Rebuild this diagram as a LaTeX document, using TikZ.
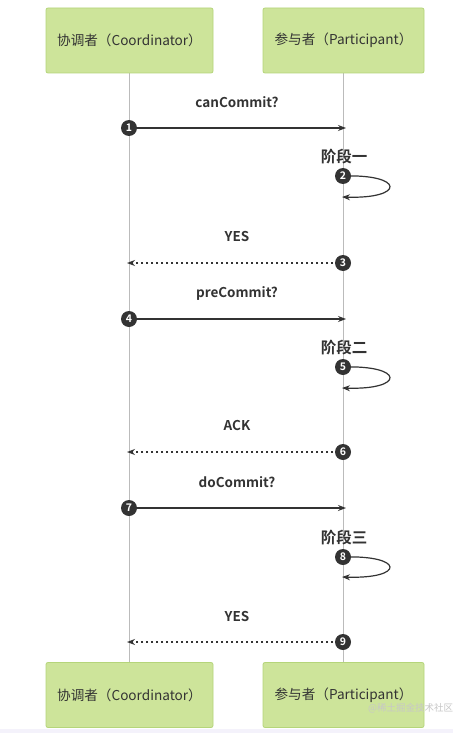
\documentclass[tikz,border=0pt]{standalone}
\usepackage{fontspec}
\setmainfont{Noto Sans CJK SC}[BoldFont={Noto Sans CJK SC Bold}]
\usetikzlibrary{arrows.meta}
\definecolor{boxfill}{HTML}{CDE49A}
\definecolor{boxdraw}{HTML}{B5D57A}
\definecolor{ink}{HTML}{333333}
\definecolor{life}{HTML}{BBBBBB}
\definecolor{strip}{HTML}{F4F2FB}
\tikzset{
  actor/.style={draw=boxdraw, fill=boxfill, rounded corners=2pt, line width=0.8pt,
    minimum width=167pt, minimum height=65pt, font=\fontsize{13.6}{15}\selectfont, text=ink, inner sep=0pt},
  lifeline/.style={draw=life, line width=0.6pt},
  msglabel/.style={font=\bfseries\fontsize{13.5}{15}\selectfont, text=ink, inner sep=0pt},
  phaselabel/.style={font=\bfseries\fontsize{15.5}{17}\selectfont, text=ink, inner sep=0pt},
  num/.style={circle, fill=ink, text=white, minimum size=16pt, inner sep=0pt, font=\fontsize{10.5}{10.5}\selectfont\bfseries},
  msg/.style={draw=ink, line width=1.2pt, -{Stealth[length=8pt,width=6pt]}},
  reply/.style={draw=ink, line width=1.2pt, dash pattern=on 2.5pt off 2.5pt, -{Stealth[length=8pt,width=6pt]}},
  selfmsg/.style={draw=ink, line width=1.2pt, -{Stealth[length=8pt,width=6pt]}},
}
\begin{document}
\begin{tikzpicture}[x=1pt,y=-1pt]
\useasboundingbox (0,0) rectangle (453,733);
\fill[white] (0,0) rectangle (453,733);
\fill[strip] (0,729) rectangle (453,733);
% lifelines
\coordinate (cT) at (129,73); \coordinate (cB) at (129,662);
\coordinate (pT) at (343,73); \coordinate (pB) at (343,662);
\draw[lifeline] (cT) -- (cB);
\draw[lifeline] (pT) -- (pB);
% actors
\node[actor, minimum width=167pt] (c1) at (129.5,40.5) {协调者（Coordinator）};
\node[actor, minimum width=161pt] (p1) at (343.5,40.5) {参与者（Participant）};
\node[actor, minimum width=167pt] (c2) at (129.5,695) {协调者（Coordinator）};
\node[actor, minimum width=161pt] (p2) at (343.5,695) {参与者（Participant）};
% watermark
\node[anchor=west, text=black!22, font=\fontsize{9.5}{10}\selectfont, inner sep=0pt] (wm) at (368,708) {@稀土掘金技术社区};
% endpoints
\coordinate (a1) at (129,128); \coordinate (b1) at (346,128);
\coordinate (a3) at (343,263); \coordinate (b3) at (127,263);
\coordinate (a4) at (129,319); \coordinate (b4) at (346,319);
\coordinate (a6) at (343,452); \coordinate (b6) at (127,452);
\coordinate (a7) at (129,508); \coordinate (b7) at (346,508);
\coordinate (a9) at (343,642); \coordinate (b9) at (127,642);
% messages
\node[msglabel] (l1) at (237,102) {canCommit?};
\draw[msg] (a1) -- (b1);
\node[num] (n1) at (a1) {1};

\node[phaselabel] (l2) at (344,157) {阶段一};
\coordinate (s2a) at (343,176); \coordinate (s2b) at (342,197);
\draw[selfmsg] (s2a) .. controls (405,174) and (405,199) .. (s2b);
\node[num] (n2) at (s2a) {2};

\node[msglabel] (l3) at (237,237) {YES};
\draw[reply] (a3) -- (b3);
\node[num] (n3) at (a3) {3};

\node[msglabel] (l4) at (237,293) {preCommit?};
\draw[msg] (a4) -- (b4);
\node[num] (n4) at (a4) {4};

\node[phaselabel] (l5) at (344,348) {阶段二};
\coordinate (s5a) at (343,367); \coordinate (s5b) at (342,388);
\draw[selfmsg] (s5a) .. controls (405,365) and (405,390) .. (s5b);
\node[num] (n5) at (s5a) {5};

\node[msglabel] (l6) at (237,426) {ACK};
\draw[reply] (a6) -- (b6);
\node[num] (n6) at (a6) {6};

\node[msglabel] (l7) at (237,482) {doCommit?};
\draw[msg] (a7) -- (b7);
\node[num] (n7) at (a7) {7};

\node[phaselabel] (l8) at (344,538) {阶段三};
\coordinate (s8a) at (343,557); \coordinate (s8b) at (342,577);
\draw[selfmsg] (s8a) .. controls (405,555) and (405,579) .. (s8b);
\node[num] (n8) at (s8a) {8};

\node[msglabel] (l9) at (237,616) {YES};
\draw[reply] (a9) -- (b9);
\node[num] (n9) at (a9) {9};
\end{tikzpicture}
\end{document}
